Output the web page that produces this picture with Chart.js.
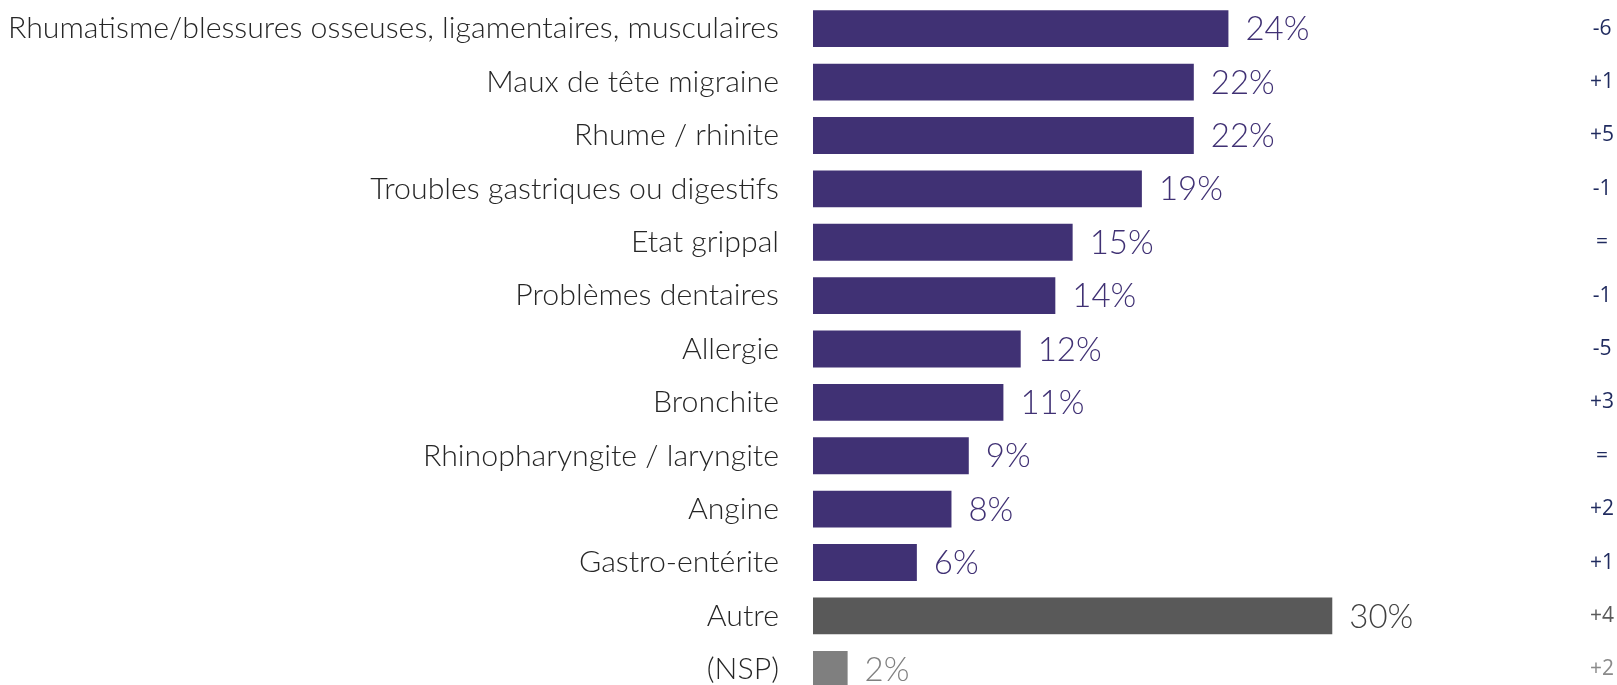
<!DOCTYPE html>
<html>
<head>
<meta charset="utf-8">
<script src="https://cdn.jsdelivr.net/npm/chart.js@4.4.1/dist/chart.umd.min.js"></script>
<style>
    html, body { margin: 0; padding: 0; background: #fff; overflow: hidden; }
    #wrap { width: 1617px; height: 696px; position: relative; }
</style>
</head>
<body>
<div id="wrap"><canvas id="mainChart"></canvas></div>
<script>
// Data
const categories = [
    'Rhumatisme/blessures osseuses, ligamentaires, musculaires',
    'Maux de tête migraine',
    'Rhume / rhinite',
    'Troubles gastriques ou digestifs',
    'Etat grippal',
    'Problèmes dentaires',
    'Allergie',
    'Bronchite',
    'Rhinopharyngite / laryngite',
    'Angine',
    'Gastro-entérite',
    'Autre',
    '(NSP)'
];
const values = [24, 22, 22, 19, 15, 14, 12, 11, 9, 8, 6, 30, 2];
const changes = ['-6', '+1', '+5', '-1', '=', '-1', '-5', '+3', '=', '+2', '+1', '+4', '+2'];

// Colours
const barColors = values.map((v, i) => i === 11 ? '#595959' : (i === 12 ? '#7f7f7f' : '#403174'));
const valueColors = values.map((v, i) => i === 11 ? '#404040' : (i === 12 ? '#808080' : '#403174'));
const changeColors = changes.map((v, i) => i === 11 ? '#5a5a5a' : (i === 12 ? '#8a8a8a' : '#1f2a5e'));

// Value labels at the end of each bar
const valueLabels = {
    id: 'valueLabels',
    afterDatasetsDraw(chart) {
        const ctx = chart.ctx;
        const meta = chart.getDatasetMeta(0);
        ctx.save();
        ctx.font = '300 33px Lato';
        ctx.textBaseline = 'middle';
        ctx.textAlign = 'left';
        meta.data.forEach((bar, i) => {
            ctx.fillStyle = valueColors[i];
            ctx.fillText(values[i] + '%', bar.x + 17, bar.y + 1);
        });
        ctx.restore();
    }
};

// no extra space above/below the category axes
function fixWidth(w) {
    return scale => {
        scale.width = w;
        scale.paddingTop = 0;
        scale.paddingBottom = 0;
    };
}

const ctx = document.getElementById('mainChart').getContext('2d');
new Chart(ctx, {
    type: 'bar',
    data: {
        labels: categories,
        datasets: [{
            data: values,
            backgroundColor: barColors,
            borderWidth: 0,
            barPercentage: 0.69,
            categoryPercentage: 1
        }]
    },
    options: {
        indexAxis: 'y',
        responsive: true,
        maintainAspectRatio: false,
        animation: false,
        layout: { padding: { top: 2, left: 0, right: 0, bottom: 0 } },
        plugins: {
            legend: { display: false },
            tooltip: { enabled: false }
        },
        scales: {
            x: {
                display: false,
                min: 0,
                max: 44.6
            },
            y: {
                position: 'left',
                grid: { display: false, drawTicks: false },
                border: { display: false },
                ticks: {
                    color: '#262626',
                    padding: 34,
                    font: { family: 'Lato', weight: 300, size: 30.3 }
                },
                afterFit: fixWidth(813)
            },
            y2: {
                type: 'category',
                position: 'right',
                labels: changes,
                offset: true,
                grid: { display: false, drawTicks: false },
                border: { display: false },
                ticks: {
                    crossAlign: 'center',
                    padding: 5,
                    color: c => changeColors[c.index],
                    font: { family: 'Open Sans', size: 21 }
                },
                afterFit: fixWidth(32)
            }
        }
    },
    plugins: [valueLabels]
});
</script>
</body>
</html>
